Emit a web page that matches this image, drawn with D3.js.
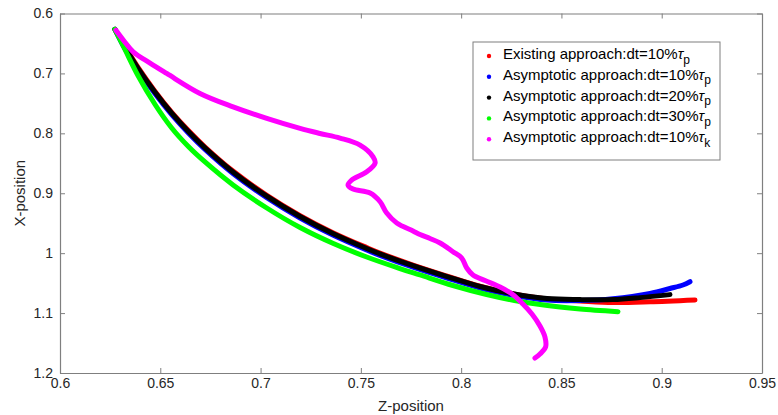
<!DOCTYPE html>
<html>
<head>
<meta charset="utf-8">
<script src="https://cdn.jsdelivr.net/npm/d3@7"></script>
<style>
  body { margin: 0; background: #fff; }
  svg { display: block; font-family: "Liberation Sans", Arial, Helvetica, sans-serif; }
</style>
</head>
<body>
<div id="chart"></div>
<script>
// DATA
const xTicks = [0.6, 0.65, 0.7, 0.75, 0.8, 0.85, 0.9, 0.95];
const yTicks = [0.6, 0.7, 0.8, 0.9, 1.0, 1.1, 1.2];

const blackZ = [0.6274, 0.6324, 0.6390, 0.6474, 0.6557, 0.6640, 0.6723, 0.6864, 0.7031, 0.7197, 0.7363, 0.7529, 0.7595, 0.7760, 0.7930, 0.8094, 0.8259, 0.8428, 0.8593, 0.8757, 0.8892, 0.9041];
const blackX = [0.6264, 0.6564, 0.6920, 0.7315, 0.7664, 0.7969, 0.8243, 0.8649, 0.9049, 0.9388, 0.9677, 0.9922, 1.0011, 1.0209, 1.0391, 1.0556, 1.0678, 1.0758, 1.0775, 1.0775, 1.0742, 1.0692];

const redZ = [0.6274, 0.6324, 0.6390, 0.6474, 0.6557, 0.6640, 0.6723, 0.6864, 0.7031, 0.7197, 0.7363, 0.7529, 0.7595, 0.7760, 0.7930, 0.8094, 0.8259, 0.8428, 0.8593, 0.8757, 0.8942, 0.9166];
const redX = [0.6264, 0.6550, 0.6905, 0.7300, 0.7649, 0.7954, 0.8228, 0.8634, 0.9034, 0.9373, 0.9662, 0.9907, 0.9998, 1.0198, 1.0383, 1.0552, 1.0680, 1.0765, 1.0798, 1.0824, 1.0812, 1.0782];

const blueZ = [0.6274, 0.6324, 0.6390, 0.6474, 0.6557, 0.6640, 0.6723, 0.6864, 0.7031, 0.7197, 0.7363, 0.7529, 0.7595, 0.7760, 0.7930, 0.8094, 0.8259, 0.8428, 0.8593, 0.8757, 0.8942, 0.9041, 0.9106, 0.9141];
const blueX = [0.6264, 0.6589, 0.6945, 0.7340, 0.7689, 0.7994, 0.8268, 0.8674, 0.9074, 0.9413, 0.9702, 0.9947, 1.0036, 1.0234, 1.0416, 1.0581, 1.0703, 1.0783, 1.0790, 1.0760, 1.0672, 1.0590, 1.0531, 1.0476];

const greenZ = [0.6274, 0.6324, 0.6390, 0.6474, 0.6557, 0.6640, 0.6723, 0.6863, 0.7031, 0.7197, 0.7363, 0.7529, 0.7695, 0.7795, 0.7959, 0.8127, 0.8294, 0.8493, 0.8593, 0.8782];
const greenX = [0.6264, 0.6601, 0.7043, 0.7519, 0.7911, 0.8220, 0.8478, 0.8862, 0.9246, 0.9572, 0.9839, 1.0064, 1.0256, 1.0364, 1.0540, 1.0690, 1.0807, 1.0898, 1.0932, 1.0977];

const magentaZ = [0.6279, 0.6324, 0.6365, 0.6449, 0.6532, 0.6698, 0.6863, 0.7031, 0.7197, 0.7296, 0.7396, 0.7496, 0.7561, 0.7571, 0.7529, 0.7454, 0.7436, 0.7461, 0.7546, 0.7596, 0.7629, 0.7679, 0.7760, 0.7795, 0.7845, 0.7895, 0.7959, 0.8003, 0.8028, 0.8059, 0.8119, 0.8194, 0.8254, 0.8308, 0.8353, 0.8393, 0.8418, 0.8421, 0.8393, 0.8368];
const magentaX = [0.6279, 0.6479, 0.6640, 0.6829, 0.7001, 0.7334, 0.7558, 0.7751, 0.7918, 0.8002, 0.8080, 0.8197, 0.8392, 0.8497, 0.8642, 0.8780, 0.8864, 0.8931, 0.8997, 0.9142, 0.9331, 0.9497, 0.9630, 0.9689, 0.9755, 0.9830, 0.9976, 1.0081, 1.0248, 1.0364, 1.0456, 1.0565, 1.0682, 1.0849, 1.1016, 1.1216, 1.1400, 1.1567, 1.1684, 1.1751];

const seriesNames = [
  "Existing approach:dt=10%",
  "Asymptotic approach:dt=10%",
  "Asymptotic approach:dt=20%",
  "Asymptotic approach:dt=30%",
  "Asymptotic approach:dt=10%"
];
const seriesSubs = ["p", "p", "p", "p", "k"];
const seriesColors = ["#ff0000", "#0000ff", "#000000", "#00ff00", "#ff00ff"];

// RENDER
function render() {
  const width = 778, height = 415;
  const margin = { top: 13.5, right: 16, bottom: 42, left: 60 };
  const w = width - margin.left - margin.right;
  const h = height - margin.top - margin.bottom;

  const svg = d3.select('#chart').append('svg')
      .attr('width', width)
      .attr('height', height);

  const g = svg.append('g')
      .attr('transform', `translate(${margin.left},${margin.top})`);

  const x = d3.scaleLinear().domain([0.6, 0.95]).range([0, w]);
  const y = d3.scaleLinear().domain([0.6, 1.2]).range([0, h]);

  const fmt = d => String(+d.toFixed(2));

  const axisColor = '#7f7f7f';
  const textColor = '#262626';

  const styleAxis = sel => {
    sel.select('.domain').attr('stroke', axisColor).attr('stroke-width', 1.2);
    sel.selectAll('.tick line').attr('stroke', axisColor);
    sel.selectAll('.tick text').attr('fill', textColor).style('font-size', '14px');
  };

  g.append('g')
      .attr('transform', `translate(0,${h})`)
      .call(d3.axisBottom(x).tickValues(xTicks).tickSize(-5).tickSizeOuter(0).tickPadding(5).tickFormat(fmt))
      .call(styleAxis);
  g.append('g')
      .call(d3.axisTop(x).tickValues(xTicks).tickSize(-5).tickSizeOuter(0).tickFormat(''))
      .call(styleAxis);
  g.append('g')
      .call(d3.axisLeft(y).tickValues(yTicks).tickSize(-5).tickSizeOuter(0).tickPadding(7).tickFormat(fmt))
      .call(styleAxis);
  g.append('g')
      .attr('transform', `translate(${w},0)`)
      .call(d3.axisRight(y).tickValues(yTicks).tickSize(-5).tickSizeOuter(0).tickFormat(''))
      .call(styleAxis);

  // curves (drawn red first so black sits on top, magenta last)
  const series = [
    { z: redZ, v: redX },
    { z: blueZ, v: blueX },
    { z: blackZ, v: blackX },
    { z: greenZ, v: greenX },
    { z: magentaZ, v: magentaX }
  ];

  const line = d3.line()
      .x(d => x(d[0]))
      .y(d => y(d[1]))
      .curve(d3.curveCatmullRom.alpha(0.5));

  series.forEach((s, i) => {
    const pts = s.z.map((z, k) => [z, s.v[k]]);
    g.append('path')
        .datum(pts)
        .attr('fill', 'none')
        .attr('stroke', seriesColors[i])
        .attr('stroke-width', 5)
        .attr('stroke-linecap', 'round')
        .attr('stroke-linejoin', 'round')
        .attr('d', line);
  });

  // axis labels
  svg.append('text')
      .attr('x', margin.left + w / 2)
      .attr('y', 411)
      .attr('text-anchor', 'middle')
      .attr('fill', textColor)
      .style('font-size', '15px')
      .text('Z-position');

  svg.append('text')
      .attr('transform', `translate(25,${margin.top + h / 2}) rotate(-90)`)
      .attr('text-anchor', 'middle')
      .attr('fill', textColor)
      .style('font-size', '15px')
      .text('X-position');

  // legend
  const legend = svg.append('g').attr('transform', 'translate(473,42)');
  legend.append('rect')
      .attr('width', 247)
      .attr('height', 118)
      .attr('fill', '#fff')
      .attr('stroke', axisColor)
      .attr('stroke-width', 1);

  seriesNames.forEach((name, i) => {
    const row = legend.append('g').attr('transform', `translate(0,${12 + i * 20.8})`);
    row.append('circle')
        .attr('cx', 16)
        .attr('cy', 2)
        .attr('r', 2.2)
        .attr('fill', seriesColors[i]);
    const t = row.append('text')
        .attr('x', 30)
        .attr('y', 5)
        .attr('fill', '#000')
        .style('font-size', '15px');
    t.append('tspan').text(name);
    t.append('tspan').style('font-style', 'italic').text('\u03c4');
    t.append('tspan').attr('dy', 4.5).style('font-size', '12px').text(seriesSubs[i]);
  });
}

window.onload = render;
</script>
</body>
</html>
